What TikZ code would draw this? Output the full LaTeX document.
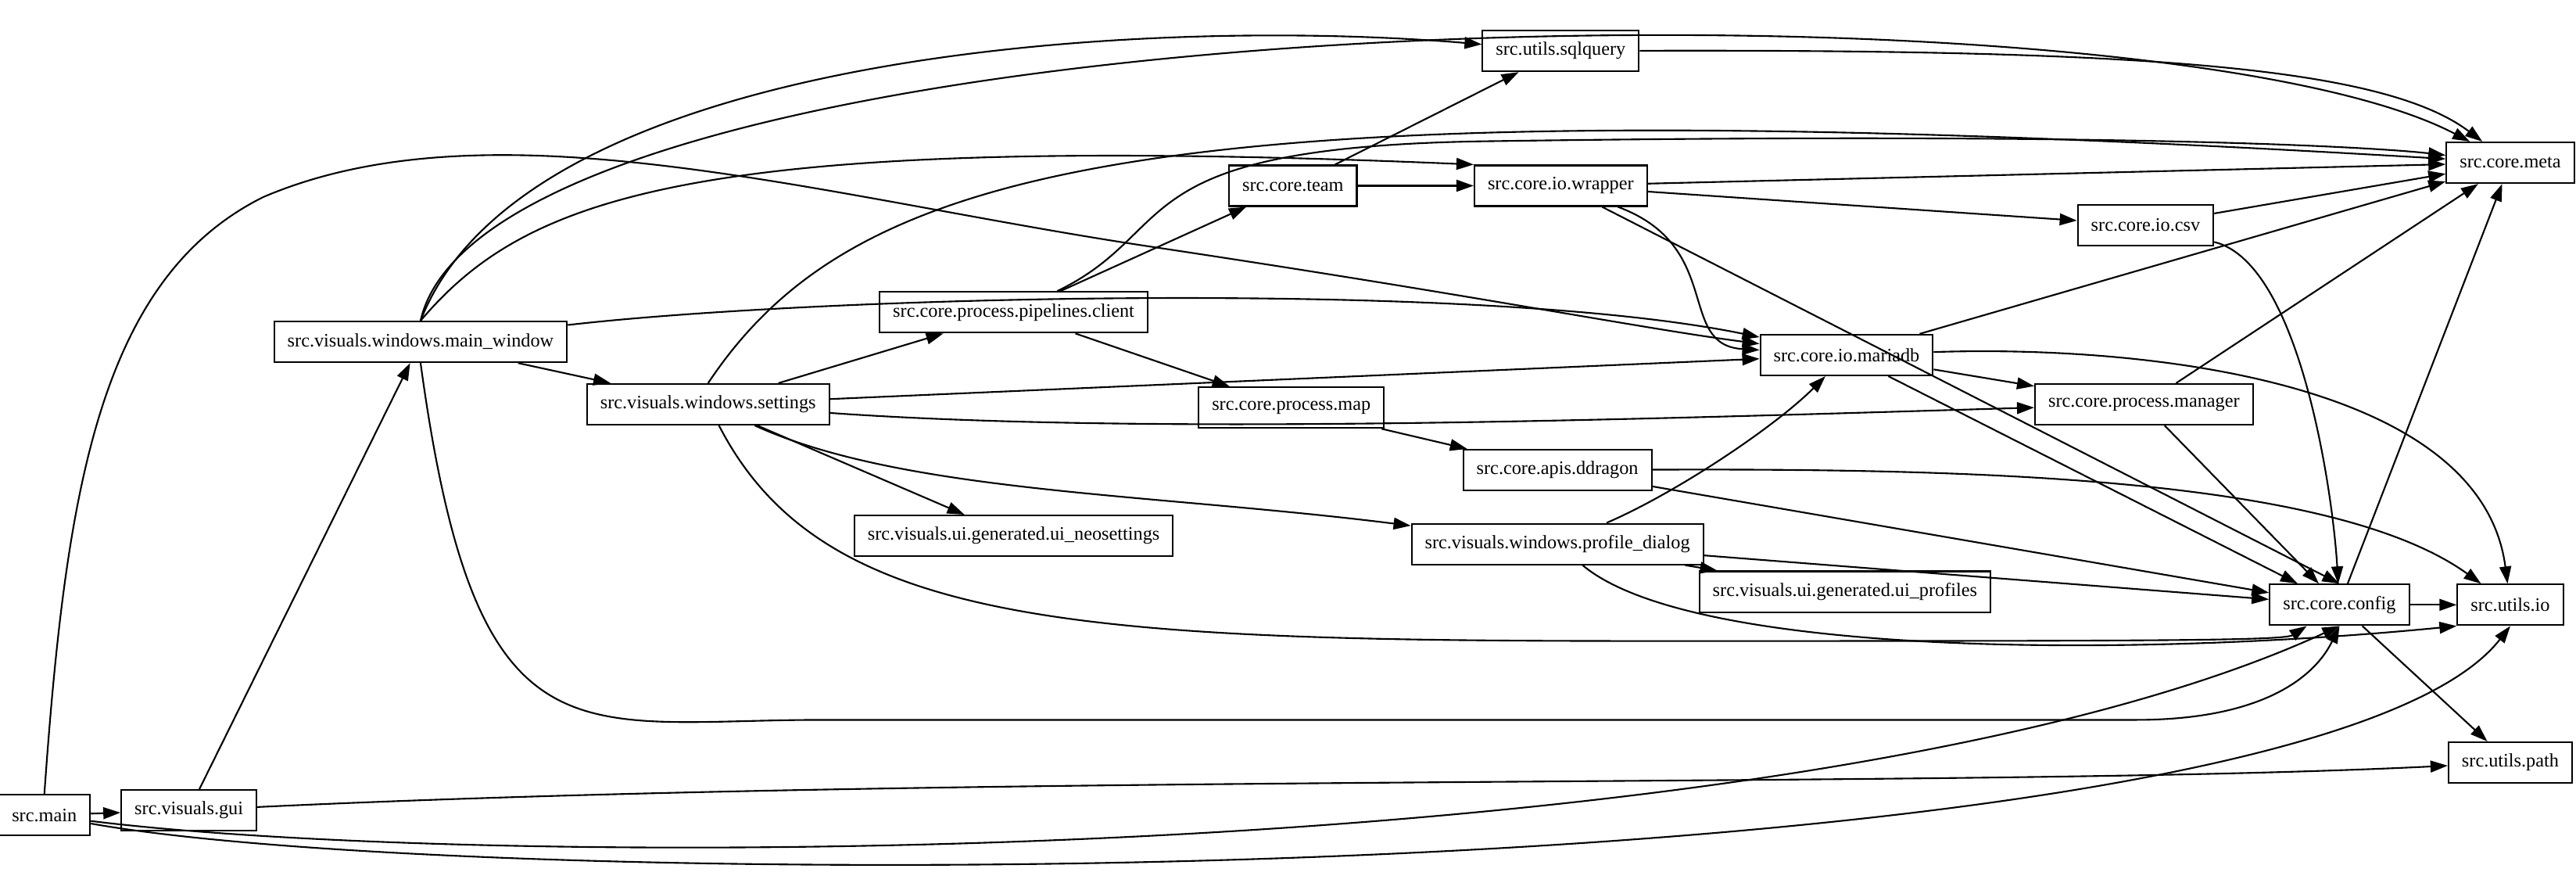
\documentclass[tikz,border=0pt]{standalone}
\usepackage{fontspec}
\setmainfont{Liberation Serif}
\usetikzlibrary{arrows.meta,positioning}
\begin{document}
\begin{tikzpicture}[x=0.021cm,y=-0.021cm]
\tikzstyle{mod}=[rectangle, draw=black, line width=0.6pt, minimum height=5.2mm, inner xsep=1.7mm, font=\fontsize{6.9}{8}\selectfont]
\tikzstyle{dep}=[-{Triangle[length=2.2mm,width=1.5mm]}, line width=0.6pt]
\useasboundingbox (0,0) rectangle (1568,537);

  \node[mod] (main) at (27,496) {src.main};
  \node[mod] (gui) at (115,493) {src.visuals.gui};
  \node[mod] (mainwin) at (256,208) {src.visuals.windows.main\_window};
  \node[mod] (settings) at (431,246) {src.visuals.windows.settings};
  \node[mod] (client) at (617,190) {src.core.process.pipelines.client};
  \node[mod] (team) at (787,113) {src.core.team};
  \node[mod] (sqlquery) at (950,31) {src.utils.sqlquery};
  \node[mod] (wrapper) at (950,113) {src.core.io.wrapper};
  \node[mod] (map) at (786,248) {src.core.process.map};
  \node[mod] (ddragon) at (948,286) {src.core.apis.ddragon};
  \node[mod] (neoset) at (617,326) {src.visuals.ui.generated.ui\_neosettings};
  \node[mod] (profile) at (948,331) {src.visuals.windows.profile\_dialog};
  \node[mod] (uiprof) at (1123,360) {src.visuals.ui.generated.ui\_profiles};
  \node[mod] (csv) at (1306,137) {src.core.io.csv};
  \node[mod] (mariadb) at (1124,216) {src.core.io.mariadb};
  \node[mod] (manager) at (1305,246) {src.core.process.manager};
  \node[mod] (config) at (1424,368) {src.core.config};
  \node[mod] (meta) at (1528,99) {src.core.meta};
  \node[mod] (utilsio) at (1528,368) {src.utils.io};
  \node[mod] (path) at (1528,464) {src.utils.path};

  % src.main
  \draw[dep] (main) -- (gui);
  \draw[dep] (main.north) .. controls (40,300) and (60,170) .. (160,120) .. controls (300,60) and (500,120) .. (700,150) .. controls (900,180) and (1000,200) .. (mariadb);
  \draw[dep] (main) .. controls (300,530) and (1100,530) .. (config.south);
  \draw[dep] (main) .. controls (300,545) and (1400,545) .. (utilsio.south);
  \draw[dep] (gui) -- (mainwin);
  \draw[dep] (gui) .. controls (600,470) and (1200,480) .. (path);

  % main window
  \draw[dep] (mainwin.north) .. controls (300,0) and (1300,-20) .. (meta);
  \draw[dep] (mainwin.north) .. controls (320,30) and (700,10) .. (sqlquery);
  \draw[dep] (mainwin.north) .. controls (320,120) and (420,80) .. (wrapper.north west);
  \draw[dep] (mainwin) .. controls (500,180) and (900,170) .. (mariadb);
  \draw[dep] (mainwin) -- (settings);
  \draw[dep] (mainwin.south) .. controls (290,470) and (350,438) .. (500,438) -- (1300,438) .. controls (1380,438) and (1410,410) .. (config.south);

  % settings
  \draw[dep] (settings.north) .. controls (520,100) and (700,50) .. (meta);
  \draw[dep] (settings) -- (client);
  \draw[dep] (settings) -- (mariadb);
  \draw[dep] (settings) .. controls (700,265) and (1000,255) .. (manager);
  \draw[dep] (settings) -- (neoset);
  \draw[dep] (settings) .. controls (550,300) and (700,300) .. (profile);
  \draw[dep] (settings) .. controls (500,380) and (650,390) .. (1000,390) .. controls (1300,390) and (1390,390) .. (config);

  % pipelines client
  \draw[dep] (client) -- (team);
  \draw[dep] (client) .. controls (720,140) and (680,90) .. (900,86) .. controls (1300,80) and (1450,90) .. (meta);
  \draw[dep] (client) -- (map);

  % team, sqlquery, wrapper
  \draw[dep] (team) -- (sqlquery);
  \draw[dep] (team) -- (wrapper);
  \draw[dep] (sqlquery) .. controls (1300,30) and (1450,40) .. (meta);
  \draw[dep] (wrapper) -- (meta);
  \draw[dep] (wrapper) -- (csv);
  \draw[dep] (wrapper) .. controls (1050,150) and (1020,210) .. (mariadb);
  \draw[dep] (wrapper) -- (config.north);

  % csv, mariadb
  \draw[dep] (csv) -- (meta);
  \draw[dep] (csv) .. controls (1400,160) and (1420,300) .. (config);
  \draw[dep] (mariadb) -- (meta);
  \draw[dep] (mariadb) -- (manager);
  \draw[dep] (mariadb) -- (config);
  \draw[dep] (mariadb) .. controls (1300,210) and (1510,230) .. (utilsio);

  % map, ddragon, profile dialog
  \draw[dep] (map) -- (ddragon);
  \draw[dep] (ddragon) -- (config);
  \draw[dep] (ddragon) .. controls (1200,285) and (1420,290) .. (utilsio);
  \draw[dep] (profile) .. controls (1020,300) and (1080,260) .. (mariadb);
  \draw[dep] (profile) -- (config);
  \draw[dep] (profile) -- (uiprof);
  \draw[dep] (profile) .. controls (1030,400) and (1300,400) .. (utilsio.south west);

  % manager, config
  \draw[dep] (manager) -- (meta);
  \draw[dep] (manager) -- (config);
  \draw[dep] (config) -- (meta);
  \draw[dep] (config) -- (utilsio);
  \draw[dep] (config) -- (path);
\end{tikzpicture}
\end{document}
